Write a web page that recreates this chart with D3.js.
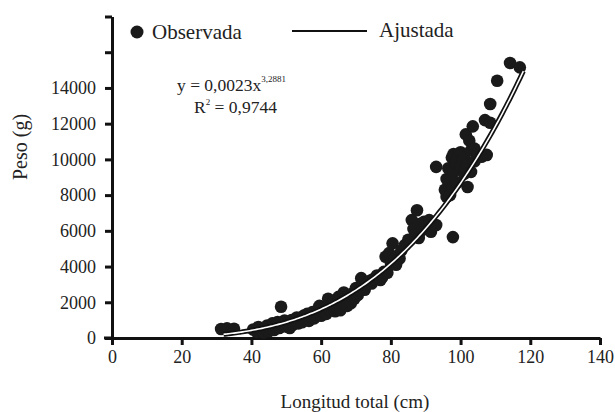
<!DOCTYPE html>
<html>
<head>
<meta charset="utf-8">
<script src="https://cdn.jsdelivr.net/npm/d3@7"></script>
<style>
  body { margin: 0; background: #fff; }
</style>
</head>
<body>
<div id="chart"></div>
<script>
// Longitud total (cm) vs Peso (g)
var lengthCm = [31.3, 33, 35,
  40.5, 41.5, 42, 43, 43.5, 44, 44.5, 45, 45.5, 46, 46.5, 47, 47.5, 48, 48.5, 49, 49.5,
  50, 50.5, 51, 51.5, 52, 52.5, 53, 53.5, 54, 54.5, 55, 55.5, 56, 56.5, 57, 57.5, 58, 58.5, 59, 59.5,
  60, 60.5, 61, 61.5, 62, 62.5, 63, 63.5, 64, 64.5, 65, 65.5, 66, 66.5, 67, 67.5, 68, 68.5, 69, 69.5,
  70, 70.5, 71, 71.5, 72, 72.5, 73, 74, 74.5, 75, 76, 77, 77.5, 78, 78.5, 79, 79.5,
  80, 80.5, 81, 81.5, 82, 82.5, 83, 84, 85, 86, 86.5, 87, 87.5, 88, 88.5, 89, 89.5,
  90, 91, 91.5, 92, 93, 93, 95.5, 96, 96, 96.5, 97, 97.5, 97.8, 97.8, 98, 98, 98.5, 99, 99, 99.5,
  100, 100, 100.5, 101, 101, 101.5, 101.5, 102, 102, 102.5, 103, 103, 103.5, 104, 104, 105, 106,
  107, 107.5, 108.5, 108.5, 110.5, 114.2, 117];
var weightG = [500, 540, 520,
  480, 350, 620, 420, 300, 560, 700, 380, 520, 820, 450, 650, 900, 560, 1750, 720, 980,
  640, 820, 560, 1000, 750, 900, 1150, 820, 1020, 880, 1250, 1100, 1350, 960, 1200, 1450, 1100, 1300, 1550, 1800,
  1250, 1450, 1700, 1350, 2200, 1600, 1900, 2050, 1500, 1700, 2300, 1550, 2000, 2550, 2150, 1800, 2350, 1950, 2500, 2200,
  2800, 2400, 2650, 3350, 2950, 2700, 3050, 3200, 3050, 3300, 3500, 3250, 3400, 3700, 4550, 3650, 4750,
  4200, 5300, 4400, 4100, 4600, 4450, 4900, 5200, 5500, 6600, 6100, 5800, 7150, 5600, 6400, 6050, 6500,
  6200, 6600, 5950, 6250, 6330, 9580, 8300, 7900, 8900, 9500, 8000, 10100, 5650, 8450, 9300, 10300, 9800, 8700, 9900, 10200,
  9600, 10400, 10000, 9200, 10100, 11400, 9500, 8450, 9700, 11050, 10500, 9300, 11850, 9900, 10600, 10300, 10150,
  12200, 10250, 12050, 13100, 14400, 15400, 15150];

var fitA = 0.0023, fitB = 3.2881;
var fitRange = [32, 118];
var xTicks = [0, 20, 40, 60, 80, 100, 120, 140];
var yTicks = [0, 2000, 4000, 6000, 8000, 10000, 12000, 14000, 16000, 18000];
var yLabelled = [0, 2000, 4000, 6000, 8000, 10000, 12000, 14000];

var serif = "'Liberation Serif', 'Times New Roman', serif";
var width = 615, height = 412;
var svg = d3.select("#chart").append("svg")
    .attr("width", width)
    .attr("height", height);

var x = d3.scaleLinear().domain([0, 140]).range([112, 600]);
var y = d3.scaleLinear().domain([0, 18000]).range([338, 16.5]);

// axes
var xAxis = d3.axisBottom(x).tickValues(xTicks).tickSize(7).tickSizeOuter(0).tickPadding(5);
var yAxis = d3.axisLeft(y).tickValues(yTicks).tickSize(7).tickSizeOuter(0).tickPadding(9)
    .tickFormat(function(d) { return yLabelled.indexOf(d) >= 0 ? d : ""; });

var gx = svg.append("g")
    .attr("transform", "translate(0," + y(0) + ")")
    .call(xAxis);
var gy = svg.append("g")
    .attr("transform", "translate(" + x(0) + ",0)")
    .call(yAxis);

[gx, gy].forEach(function(g) {
  g.attr("font-family", null);
  g.select(".domain").attr("stroke", "#111").attr("stroke-width", 3);
  g.selectAll(".tick line").attr("stroke", "#111").attr("stroke-width", 3);
  g.selectAll(".tick text")
    .style("font-family", serif)
    .style("font-size", "18px")
    .attr("fill", "#222");
});
// extend x axis line a bit to the left of the y axis
svg.append("line")
    .attr("x1", x(0) - 8).attr("x2", x(0))
    .attr("y1", y(0)).attr("y2", y(0))
    .attr("stroke", "#111").attr("stroke-width", 3);

// points
var pts = lengthCm.map(function(d, i) { return {L: d, W: weightG[i]}; });
svg.append("g").selectAll("circle")
    .data(pts)
  .enter().append("circle")
    .attr("cx", function(d) { return x(d.L); })
    .attr("cy", function(d) { return y(d.W); })
    .attr("r", 6.3)
    .attr("fill", "#1a1a1a");

// fitted curve: white line with black edges
var curvePts = d3.range(fitRange[0], fitRange[1] + 0.001, 0.5).map(function(L) {
  return {L: L, W: fitA * Math.pow(L, fitB)};
});
var line = d3.line()
    .x(function(d) { return x(d.L); })
    .y(function(d) { return y(d.W); })
    .curve(d3.curveBasis);
svg.append("path").datum(curvePts)
    .attr("d", line).attr("fill", "none")
    .attr("stroke", "#111").attr("stroke-width", 5);
svg.append("path").datum(curvePts)
    .attr("d", line).attr("fill", "none")
    .attr("stroke", "#fff").attr("stroke-width", 1.6);

function label(sel, size) {
  return sel.style("font-family", serif).style("font-size", size + "px").attr("fill", "#222");
}

// legend
svg.append("circle").attr("cx", 137).attr("cy", 32).attr("r", 6.5).attr("fill", "#1a1a1a");
label(svg.append("text").attr("x", 152).attr("y", 39), 21).text("Observada");
svg.append("line").attr("x1", 292).attr("x2", 367).attr("y1", 31).attr("y2", 31)
    .attr("stroke", "#111").attr("stroke-width", 2);
label(svg.append("text").attr("x", 379).attr("y", 37), 21).text("Ajustada");

// equation
var eq = label(svg.append("text").attr("x", 177).attr("y", 91), 17.5);
eq.append("tspan").text("y = 0,0023x");
eq.append("tspan").attr("dy", -9).style("font-size", "9px").text("3,2881");
var r2 = label(svg.append("text").attr("x", 194).attr("y", 113), 17.5);
r2.append("tspan").text("R");
r2.append("tspan").attr("dy", -8).style("font-size", "9px").text("2");
r2.append("tspan").attr("dy", 8).text(" = 0,9744");

// axis titles
label(svg.append("text"), 19)
    .attr("x", 355).attr("y", 408)
    .attr("text-anchor", "middle")
    .text("Longitud total (cm)");
label(svg.append("text"), 20)
    .attr("transform", "translate(27,147) rotate(-90)")
    .attr("text-anchor", "middle")
    .text("Peso (g)");
</script>
</body>
</html>
